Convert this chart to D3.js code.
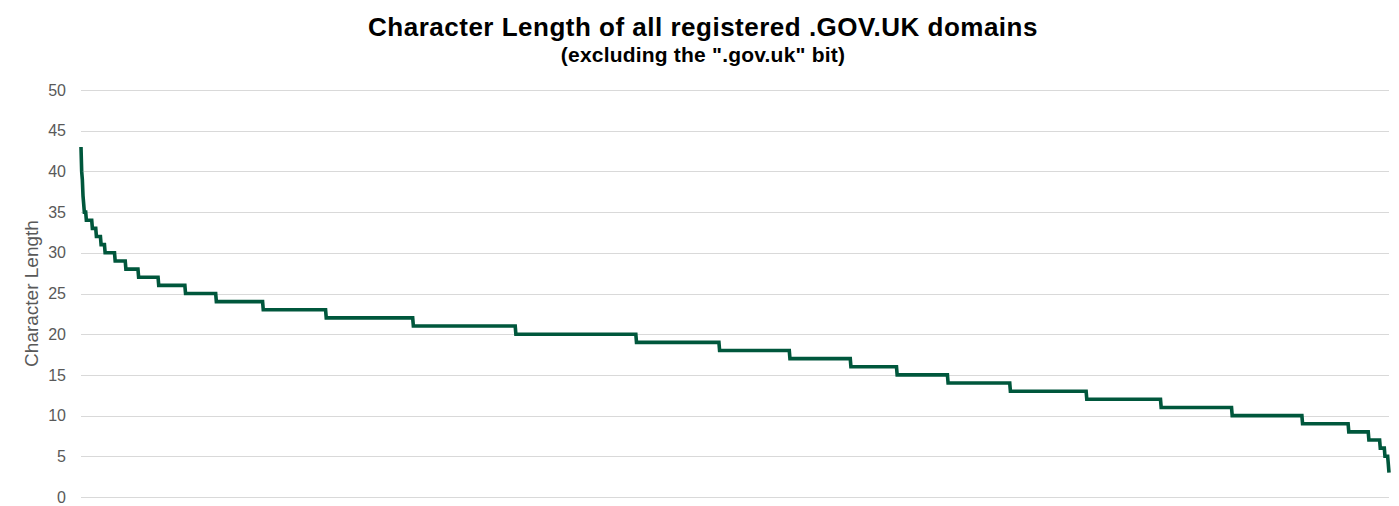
<!DOCTYPE html>
<html>
<head>
<meta charset="utf-8">
<script src="https://cdn.jsdelivr.net/npm/d3@7"></script>
<style>
  body { margin: 0; background: #fff; }
  svg { display: block; font-family: "Liberation Sans", Arial, sans-serif; }
</style>
</head>
<body>
<svg id="chart" width="1399" height="506"></svg>
<script>
// Character lengths (sorted descending) and how many domains have each length
const lengths = [43, 40, 39, 37, 36, 35, 34, 33, 32, 31, 30, 29, 28, 27, 26, 25, 24, 23, 22, 21, 20, 19, 18, 17, 16, 15, 14, 13, 12, 11, 10, 9, 8, 7, 6, 5, 4, 3];
const counts  = [ 1,  1,  1,  1,  1,  3,  9,  6,  7,  6, 15, 16, 19, 30, 40, 46, 70, 94,130,153,180,124,105, 91, 69, 76, 93,114,111,106,105, 69, 30, 17,  7,  5,  1,  1];
const yTicks = [0, 5, 10, 15, 20, 25, 30, 35, 40, 45, 50];
const titleText = "Character Length of all registered .GOV.UK domains";
const subtitleText = "(excluding the \".gov.uk\" bit)";
const yAxisLabel = "Character Length";

// Expand to one value per domain
const values = [];
lengths.forEach((len, i) => { for (let k = 0; k < counts[i]; k++) values.push(len); });

const svg = d3.select("#chart");
const margin = { left: 81, right: 10, top: 90, bottom: 9 };
const W = 1399, H = 506;

const x = d3.scaleLinear().domain([0, values.length - 1]).range([margin.left, W - margin.right]);
const y = d3.scaleLinear().domain([0, 50]).range([H - margin.bottom, margin.top]);

// Gridlines
svg.append("g")
  .selectAll("line")
  .data(yTicks)
  .join("line")
  .attr("x1", margin.left)
  .attr("x2", W - margin.right)
  .attr("y1", d => Math.round(y(d)) + 0.5)
  .attr("y2", d => Math.round(y(d)) + 0.5)
  .attr("stroke", "#d9d9d9")
  .attr("stroke-width", 1);

// Y axis labels
const yAxis = d3.axisLeft(y).tickValues(yTicks).tickSize(0).tickPadding(0);
const gy = svg.append("g").attr("transform", `translate(${margin.left - 15},0)`).call(yAxis);
gy.select(".domain").remove();
gy.selectAll("text")
  .attr("fill", "#595959")
  .style("font-size", "16px")
  .style("font-family", "'Liberation Sans', Arial, sans-serif");

// Y axis title
svg.append("text")
  .attr("transform", `translate(38, ${(y(0) + y(50)) / 2}) rotate(-90)`)
  .attr("text-anchor", "middle")
  .attr("fill", "#595959")
  .style("font-size", "19px")
  .text(yAxisLabel);

// Line
const line = d3.line()
  .x((d, i) => x(i))
  .y(d => y(d));

svg.append("path")
  .datum(values)
  .attr("d", line)
  .attr("fill", "none")
  .attr("stroke", "#00573c")
  .attr("stroke-width", 3.6)
  .attr("stroke-linejoin", "miter");

// Titles
svg.append("text")
  .attr("x", 703)
  .attr("y", 36)
  .attr("text-anchor", "middle")
  .attr("fill", "#000")
  .style("font-size", "26px")
  .style("letter-spacing", "0.5px")
  .style("font-weight", "bold")
  .text(titleText);

svg.append("text")
  .attr("x", 703)
  .attr("y", 62)
  .attr("text-anchor", "middle")
  .attr("fill", "#000")
  .style("font-size", "21px")
  .style("letter-spacing", "0.2px")
  .style("font-weight", "bold")
  .text(subtitleText);
</script>
</body>
</html>
